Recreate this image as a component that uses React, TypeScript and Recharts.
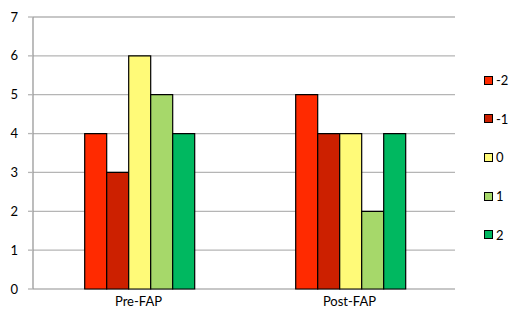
import { Bar, BarChart, CartesianGrid, Legend, XAxis, YAxis } from 'recharts'

const categories = ['Pre-FAP', 'Post-FAP']
const seriesNames = ['-2', '-1', '0', '1', '2']
const seriesColors = ['#ff2a00', '#cc2000', '#fffa78', '#a6d86a', '#00b860']
const seriesValues = [
  [4, 5],
  [3, 4],
  [6, 4],
  [5, 2],
  [4, 4],
]
const yTicks = [0, 1, 2, 3, 4, 5, 6, 7]
const edgeTicks = [0, 1, 2]

const data = categories.map((name, i) => {
  const row: Record<string, string | number> = { name }
  seriesNames.forEach((s, j) => {
    row[s] = seriesValues[j][i]
  })
  return row
})

const FONT = 'Lato, "Open Sans", sans-serif'
const GRID = '#b5b5b5'

function LegendBox() {
  return (
    <div style={{ fontFamily: FONT, fontSize: 13, color: '#000' }}>
      {seriesNames.map((s, i) => (
        <div key={s} style={{ height: 38.6, display: 'flex', alignItems: 'center' }}>
          <span
            style={{
              display: 'inline-block',
              width: 7,
              height: 7,
              border: '1px solid #000',
              background: seriesColors[i],
              marginRight: 3,
            }}
          />
          {s}
        </div>
      ))}
    </div>
  )
}

export default function App() {
  return (
    <div style={{ position: 'absolute', left: 0, top: 0, width: 514, height: 314, background: '#fff' }}>
      <BarChart
        width={514}
        height={314}
        data={data}
        margin={{ top: 17, right: 29, left: 0, bottom: 0 }}
        barCategoryGap="24.5%"
        barGap={0}
      >
        <CartesianGrid horizontal vertical={false} stroke={GRID} strokeWidth={1.3} />
        <XAxis
          xAxisId="edges"
          type="number"
          domain={[0, 2]}
          ticks={edgeTicks}
          height={0}
          tick={false}
          axisLine={{ stroke: '#999', strokeWidth: 1.3 }}
          tickLine={{ stroke: '#999', strokeWidth: 1.3 }}
          tickSize={5}
        />
        <XAxis
          xAxisId="cat"
          dataKey="name"
          height={25}
          axisLine={false}
          tickLine={false}
          tickSize={0}
          tickMargin={8}
          tick={{ fontSize: 13, fill: '#000', fontFamily: FONT }}
        />
        <YAxis
          domain={[0, 7]}
          ticks={yTicks}
          width={33}
          interval={0}
          axisLine={{ stroke: '#999', strokeWidth: 1.3 }}
          tickLine={{ stroke: GRID, strokeWidth: 1.3 }}
          tickSize={5}
          tickMargin={10}
          tick={{ fontSize: 13, fill: '#000', fontFamily: FONT }}
        />
        <Legend
          layout="vertical"
          align="right"
          verticalAlign="top"
          wrapperStyle={{ left: 484, top: 61, width: 30 }}
          content={() => <LegendBox />}
        />
        {seriesNames.map((s, i) => (
          <Bar
            key={s}
            xAxisId="cat"
            dataKey={s}
            fill={seriesColors[i]}
            stroke="#000"
            strokeWidth={1.2}
            isAnimationActive={false}
          />
        ))}
      </BarChart>
    </div>
  )
}
